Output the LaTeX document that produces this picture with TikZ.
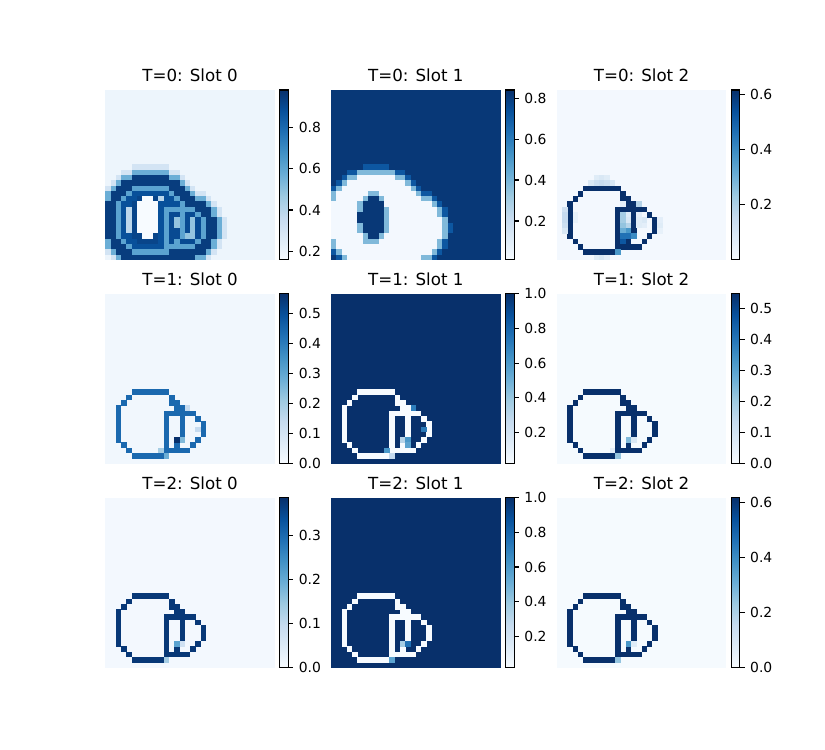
\documentclass[tikz,border=0pt]{standalone}
\usepackage{fontspec}
\setmainfont{DejaVu Sans}
\definecolor{B0}{rgb}{0.968627,0.984314,1.0}
\definecolor{B1}{rgb}{0.870588,0.921569,0.968627}
\definecolor{B2}{rgb}{0.776471,0.858824,0.937255}
\definecolor{B3}{rgb}{0.619608,0.792157,0.882353}
\definecolor{B4}{rgb}{0.419608,0.682353,0.839216}
\definecolor{B5}{rgb}{0.258824,0.572549,0.776471}
\definecolor{B6}{rgb}{0.129412,0.443137,0.709804}
\definecolor{B7}{rgb}{0.031373,0.317647,0.611765}
\definecolor{B8}{rgb}{0.031373,0.188235,0.419608}
\pgfdeclareverticalshading{bluesv}{100bp}{color(0bp)=(B0); color(25bp)=(B0); color(31.25bp)=(B1); color(37.5bp)=(B2); color(43.75bp)=(B3); color(50bp)=(B4); color(56.25bp)=(B5); color(62.5bp)=(B6); color(68.75bp)=(B7); color(75bp)=(B8); color(100bp)=(B8)}
\tikzset{
  titlestyle/.style={anchor=base, inner sep=0pt, font=\fontsize{12bp}{14bp}\selectfont},
  ticklab/.style={anchor=west, inner sep=0pt, xshift=3.5bp, font=\fontsize{10bp}{12bp}\selectfont},
  cbframe/.style={draw=black, line width=0.8bp},
  tickmark/.style={draw=black, line width=0.8bp}
}
\newcommand\setblue[2]{%
  \pgfmathtruncatemacro\bk{min(7,int(8*max(0,#2)))}%
  \pgfmathtruncatemacro\bp{round(100*(8*min(1,max(0,#2))-\bk))}%
  \pgfmathtruncatemacro\bkk{\bk+1}%
  \colorlet{#1}{B\bkk!\bp!B\bk}}
\newcommand\cellat[4]{%
  \pgfmathsetmacro\cxa{#1+#3*5.308}%
  \pgfmathsetmacro\cya{#2+#4*5.308}%
  \fill[cc] (\cxa,\cya) rectangle ++(5.65,5.65);}
\def\Olist{5/18,6/18,7/18,8/18,9/18,10/18,11/18,4/19,12/19,3/20,13/20,12/20,13/21,2/21,2/22,2/23,2/24,2/25,2/26,2/27,14/21,14/22,14/23,14/24,14/25,14/26,14/27,3/28,13/28,4/29,12/29,5/30,6/30,7/30,8/30,9/30,10/30,11/22,12/22,13/22,15/22,16/22,17/23,18/24,18/25,18/26,17/27,16/28,11/23,11/24,11/25,11/26,11/27,11/28,11/29,13/29,14/29,15/29}
\newcommand\explicitpanel[5]{%
  \begin{scope}
  \clip (#1,#2) rectangle ++(169.85,169.85);
  \setblue{cc}{#3}\fill[cc] (#1,#2) rectangle ++(169.85,169.85);
  \setblue{cc}{#4}%
  \foreach \ci/\ri in \Olist {\cellat{#1}{#2}{\ci}{\ri}}
  \foreach \ci/\ri/\tv in {#5} {\setblue{cc}{\tv}\cellat{#1}{#2}{\ci}{\ri}}
  \end{scope}}
\newcommand\analytic[3]{%
  \begin{scope}
  \clip (#1,#2) rectangle ++(169.85,169.85);
  \foreach \ri in {0,...,31}{\foreach \ci in {0,...,31}{%
    \pgfmathsetmacro\dA{veclen(\ci-8,\ri-24)}%
    \pgfmathsetmacro\mA{abs(\dA-6.35)}%
    \pgfmathsetmacro\dB{veclen(\ci-14.5,\ri-25.5)}%
    \pgfmathsetmacro\rdx{max(11-\ci,0)}%
    \pgfmathsetmacro\rdy{max(22-\ri,\ri-29,0)}%
    \pgfmathsetmacro\rou{veclen(\rdx,\rdy)}%
    \pgfmathsetmacro\rinn{min(\ci-11,\ri-22,29-\ri)}%
    \pgfmathsetmacro\mR{ifthenelse(\rou>0,\rou,\rinn)}%
    \pgfmathsetmacro\mD{ifthenelse(\ci>14.5,abs(\dB-3.6),\mR)}%
    \pgfmathsetmacro\mm{min(\mA,\mD)}%
    \pgfmathsetmacro\inA{ifthenelse(\dA<6.35,1,0)}%
    \pgfmathsetmacro\inD{ifthenelse(\ci>14.5,ifthenelse(\dB<3.6,1,0),ifthenelse(\rou>0,0,1))}%
    \pgfmathsetmacro\ins{max(\inA,\inD)}%
    \ifnum#3=0
      \pgfmathsetmacro\ee{veclen((\ci-7.5)/2.6,(\ri-23.8)/4.9)}%
      \pgfmathsetmacro\tv{ifthenelse(\mm<0.5,0.55,ifthenelse(\ins<0.5,ifthenelse(\mm<2.3,0.95,ifthenelse(\mm<3.2,0.5,ifthenelse(\mm<4.1,0.18,0.05))),ifthenelse(\inD>0.5,ifthenelse(\mm<1.2,0.9,0.4),ifthenelse(\mm<1.5,0.88,ifthenelse(\ee<0.82,0.0,ifthenelse(\ee<1.2,0.92,0.28))))))}%
    \else
      \pgfmathsetmacro\ee{veclen((\ci-7.3)/2.8,(\ri-23.6)/4.6)}%
      \pgfmathsetmacro\tv{ifthenelse(\mm<0.5,0.02,ifthenelse(\ins<0.5,ifthenelse(\mm<2.3,0.02,ifthenelse(\mm<3.2,0.45,ifthenelse(\mm<4.0,0.85,0.97))),ifthenelse(\inD>0.5,0.02,ifthenelse(\ee<0.85,0.97,ifthenelse(\ee<1.1,0.45,0.02)))))}%
    \fi
    \setblue{cc}{\tv}\cellat{#1}{#2}{\ci}{\ri}%
  }}
  \end{scope}}
\newcommand\cbar[6]{% x0,y0,vmin,vmax,ticks,id
  \pgfmathsetmacro\cbx{#1+174.7}%
  \shade[shading=bluesv] (\cbx,#2) rectangle ++(8.6,169.85);
  \draw[cbframe] (\cbx,#2) rectangle ++(8.6,169.85);
  \foreach \v [count=\k] in {#5} {%
    \pgfmathsetmacro\ty{#2+169.85*(#4-\v)/(#4-#3)}%
    \draw[tickmark] (\cbx+8.6,\ty) -- ++(4.86,0) node[ticklab] (lab#6n\k) {\v};
  }}
\newcommand\ptitle[4]{\node[titlestyle] (tit#4) at (#1+84.9,#2-8.33) {#3};}
\begin{document}
\begin{tikzpicture}[x=0.72bp,y=-0.72bp]
\useasboundingbox (0,0) rectangle (825,750);
\fill[white] (0,0) rectangle (825,750);
% titles
\ptitle{105.2}{90}{T=0: Slot 0}{a}
\ptitle{330.9}{90}{T=0: Slot 1}{b}
\ptitle{556.6}{90}{T=0: Slot 2}{c}
\ptitle{105.2}{293.8}{T=1: Slot 0}{d}
\ptitle{330.9}{293.8}{T=1: Slot 1}{e}
\ptitle{556.6}{293.8}{T=1: Slot 2}{f}
\ptitle{105.2}{497.7}{T=2: Slot 0}{g}
\ptitle{330.9}{497.7}{T=2: Slot 1}{h}
\ptitle{556.6}{497.7}{T=2: Slot 2}{i}
% heatmaps
\analytic{105.2}{90}{0}
\analytic{330.9}{90}{1}
\explicitpanel{556.6}{90}{0.02}{1.0}{7/16/0.12,8/16/0.15,9/16/0.12,6/17/0.15,7/17/0.22,8/17/0.25,9/17/0.22,10/17/0.15,1/22/0.2,1/23/0.25,1/24/0.25,1/25/0.22,1/26/0.15,3/23/0.08,3/24/0.08,7/31/0.12,8/31/0.15,9/31/0.1,11/30/0.6,12/23/0.35,12/24/0.35,12/25/0.4,12/26/0.5,12/27/0.75,12/28/0.85,13/23/0.12,13/24/0.15,13/25/0.3,13/26/0.6,13/27/0.75,14/27/0.65,15/21/0.3,15/23/0.1,15/24/0.12,15/25/0.12,16/24/0.15,16/25/0.1,19/24/0.1,19/25/0.12,19/26/0.08,12/21/0.1}
\explicitpanel{105.2}{293.8}{0.03}{0.78}{13/27/1.0,14/27/0.45,15/21/0.25,17/25/0.25,10/29/0.35,11/30/0.5}
\explicitpanel{330.9}{293.8}{1.0}{0.0}{15/21/0.7,17/25/0.72,13/27/0.3,14/27/0.6,14/28/0.55,10/29/0.6,11/30/0.25}
\explicitpanel{556.6}{293.8}{0.01}{1.0}{13/27/0.45,14/27/0.15,11/30/0.4,10/29/0.1}
\explicitpanel{105.2}{497.7}{0.02}{0.97}{11/30/0.35,13/27/0.55,14/27/0.2}
\explicitpanel{330.9}{497.7}{1.0}{0.0}{11/30/0.55,13/27/0.35,14/27/0.75}
\explicitpanel{556.6}{497.7}{0.01}{1.0}{13/27/0.6,14/27/0.12,11/30/0.4}
% colorbars
\cbar{105.2}{90}{0.158}{0.983}{0.2,0.4,0.6,0.8}{a}
\cbar{330.9}{90}{0.01}{0.84}{0.2,0.4,0.6,0.8}{b}
\cbar{556.6}{90}{0.001}{0.615}{0.2,0.4,0.6}{c}
\cbar{105.2}{293.8}{0.0}{0.566}{0.0,0.1,0.2,0.3,0.4,0.5}{d}
\cbar{330.9}{293.8}{0.02}{1.0}{0.2,0.4,0.6,0.8,1.0}{e}
\cbar{556.6}{293.8}{0.0}{0.548}{0.0,0.1,0.2,0.3,0.4,0.5}{f}
\cbar{105.2}{497.7}{0.0}{0.386}{0.0,0.1,0.2,0.3}{g}
\cbar{330.9}{497.7}{0.02}{1.0}{0.2,0.4,0.6,0.8,1.0}{h}
\cbar{556.6}{497.7}{0.0}{0.618}{0.0,0.2,0.4,0.6}{i}
\end{tikzpicture}
\end{document}
